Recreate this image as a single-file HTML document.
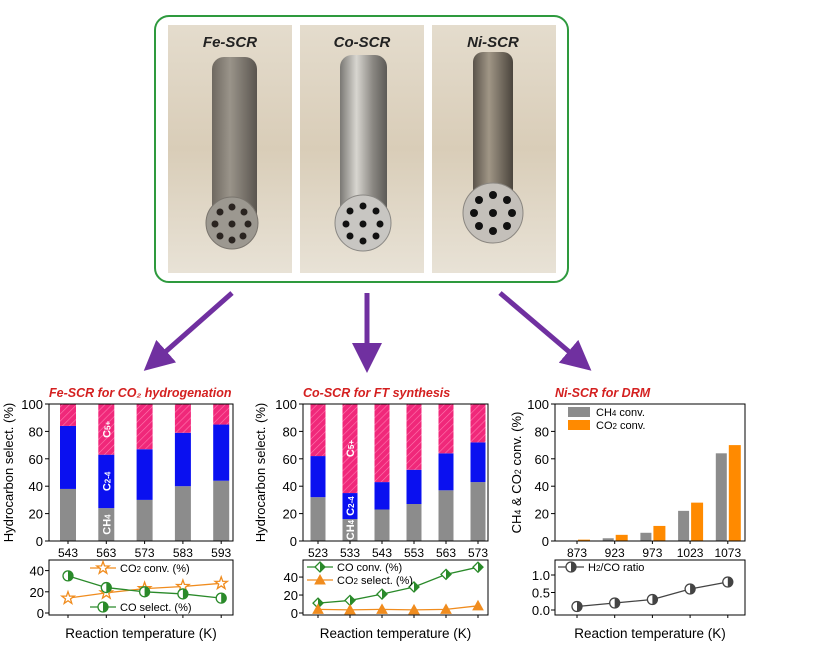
<!DOCTYPE html>
<html><head><meta charset="utf-8"><style>
body{margin:0;background:#fff;}
svg{display:block;font-family:"Liberation Sans",Arial,sans-serif;}
</style></head><body>
<svg id="fig" width="829" height="650" viewBox="0 0 829 650">
<defs>
<linearGradient id="bg1" x1="0" y1="0" x2="0" y2="1"><stop offset="0" stop-color="#e4dccd"/><stop offset="0.5" stop-color="#d9cdb8"/><stop offset="1" stop-color="#e8e2d6"/></linearGradient>
<linearGradient id="cylFe" x1="0" x2="1"><stop offset="0" stop-color="#6e6860"/><stop offset="0.4" stop-color="#9a948a"/><stop offset="1" stop-color="#5a554f"/></linearGradient>
<linearGradient id="cylCo" x1="0" x2="1"><stop offset="0" stop-color="#7a7874"/><stop offset="0.35" stop-color="#d8d6d0"/><stop offset="0.7" stop-color="#8a8782"/><stop offset="1" stop-color="#5c5a56"/></linearGradient>
<linearGradient id="cylNi" x1="0" x2="1"><stop offset="0" stop-color="#5a534a"/><stop offset="0.4" stop-color="#a09686"/><stop offset="1" stop-color="#4a443c"/></linearGradient>
<pattern id="hatch" width="5" height="5" patternUnits="userSpaceOnUse" patternTransform="rotate(45)"><rect width="5" height="5" fill="#f0287a"/><line x1="0" y1="0" x2="0" y2="5" stroke="#ff7ab0" stroke-width="1.2"/></pattern>
<marker id="ah" markerWidth="6" markerHeight="6" refX="3" refY="3" orient="auto"><path d="M0,0 L6,3 L0,6 z" fill="#7030a0"/></marker>
</defs>

<rect x="155" y="16" width="413" height="266" rx="14" fill="#fff" stroke="#2e9a3e" stroke-width="2"/>

<g>
<rect x="168" y="25" width="124" height="248" fill="url(#bg1)"/>
<rect x="212" y="57" width="45" height="168" rx="12" fill="url(#cylFe)"/>
<circle cx="232" cy="223" r="26" fill="#9c9890" stroke="#7a756e"/>
<g fill="#2a2420"><circle cx="232" cy="207" r="3.5"/><circle cx="244" cy="212" r="3.5"/><circle cx="248" cy="224" r="3.5"/><circle cx="243" cy="236" r="3.5"/><circle cx="232" cy="240" r="3.5"/><circle cx="220" cy="236" r="3.5"/><circle cx="215" cy="224" r="3.5"/><circle cx="220" cy="212" r="3.5"/><circle cx="232" cy="224" r="3.5"/></g>
<text x="230" y="47" text-anchor="middle" font-size="15" font-weight="bold" font-style="italic" fill="#222">Fe-SCR</text>
</g>
<g>
<rect x="300" y="25" width="124" height="248" fill="url(#bg1)"/>
<rect x="340" y="55" width="47" height="170" rx="12" fill="url(#cylCo)"/>
<circle cx="363" cy="223" r="28" fill="#c8c6c2" stroke="#8a8884"/>
<g fill="#111"><circle cx="363" cy="206" r="3.5"/><circle cx="376" cy="211" r="3.5"/><circle cx="380" cy="224" r="3.5"/><circle cx="376" cy="236" r="3.5"/><circle cx="363" cy="241" r="3.5"/><circle cx="350" cy="236" r="3.5"/><circle cx="346" cy="224" r="3.5"/><circle cx="350" cy="211" r="3.5"/><circle cx="363" cy="224" r="3.5"/></g>
<text x="362" y="47" text-anchor="middle" font-size="15" font-weight="bold" font-style="italic" fill="#222">Co-SCR</text>
</g>
<g>
<rect x="432" y="25" width="124" height="248" fill="url(#bg1)"/>
<rect x="473" y="52" width="40" height="165" rx="10" fill="url(#cylNi)"/>
<circle cx="493" cy="213" r="30" fill="#c4c0ba" stroke="#8a8680"/>
<g fill="#111"><circle cx="493" cy="195" r="4"/><circle cx="507" cy="200" r="4"/><circle cx="512" cy="213" r="4"/><circle cx="507" cy="226" r="4"/><circle cx="493" cy="231" r="4"/><circle cx="479" cy="226" r="4"/><circle cx="474" cy="213" r="4"/><circle cx="479" cy="200" r="4"/><circle cx="493" cy="213" r="4"/></g>
<text x="493" y="47" text-anchor="middle" font-size="15" font-weight="bold" font-style="italic" fill="#222">Ni-SCR</text>
</g>

<g stroke="#7030a0" stroke-width="5">
<line x1="232" y1="293" x2="155" y2="361" marker-end="url(#ah)"/>
<line x1="367" y1="293" x2="367" y2="358" marker-end="url(#ah)"/>
<line x1="500" y1="293" x2="580" y2="361" marker-end="url(#ah)"/>
</g>
<g id="charts"></g>
</svg>
<script>
// Fe-SCR data
const feCats = ['543','563','573','583','593'];
const feCH4 = [38,24,30,40,44];
const feC24 = [46,39,37,39,41];
const feC5 = [16,37,33,21,15];
const feCO2conv = [14,19,23,25,28];
const feCOsel = [35,24,20,18,14];
// Co-SCR data
const coCats = ['523','533','543','553','563','573'];
const coCH4 = [32,16,23,27,37,43];
const coC24 = [30,19,20,25,27,29];
const coC5 = [38,65,57,48,36,28];
const coCOconv = [11,14,21,29,43,51];
const coCO2sel = [4,3.5,4,3.5,4,8];
// Ni-SCR data
const niCats = ['873','923','973','1023','1073'];
const niCH4 = [0,2,6,22,64];
const niCO2 = [1,4.5,11,28,70];
const niRatio = [0.1,0.2,0.3,0.6,0.8];
const topTicks = [0,20,40,60,80,100];

const NS='http://www.w3.org/2000/svg';
const root=document.getElementById('charts');
function el(tag,attrs,parent,text){const e=document.createElementNS(NS,tag);for(const k in attrs)e.setAttribute(k,attrs[k]);if(text!==undefined)e.textContent=text;(parent||root).appendChild(e);return e;}

function chart(cfg){
  const g=el('g',{});
  
  
  const L=cfg.left,R=cfg.right,T=404,B=541,lT=560,lB=615;
  const xs=i=>cfg.x0+i*cfg.step;
  const y=v=>B-(v/100)*(B-T);
  const ly=v=>cfg.lZero-(v-0)*(cfg.lZero-cfg.lTop)/cfg.lMax;
  const t=el('text',{x:L,y:397,'font-size':12.5,'font-weight':'bold','font-style':'italic',fill:'#d42020'},g,cfg.title);
  
  
  const yl=el('text',{x:cfg.ylx,y:(T+B)/2,'font-size':13,'text-anchor':'middle',fill:'#000',transform:`rotate(-90 ${cfg.ylx} ${(T+B)/2})`},g);
  
  
  yl.innerHTML=cfg.ylabel;
  cfg.drawBars(g,xs,y);
  el('rect',{x:L,y:T,width:R-L,height:B-T,fill:'none',stroke:'#000','stroke-width':1},g);
  topTicks.forEach(v=>{
    el('line',{x1:L,x2:L-4,y1:y(v),y2:y(v),stroke:'#000'},g);
    const tl=el('text',{x:L-6,y:y(v)+5,'font-size':13,'text-anchor':'end'},g,String(v));
    
    
  });
  cfg.cats.forEach((c,i)=>{
    el('line',{x1:xs(i),x2:xs(i),y1:B,y2:B+3,stroke:'#000'},g);
    const tl=el('text',{x:xs(i),y:557,'font-size':12,'text-anchor':'middle'},g,c);
    
    
  });
  el('rect',{x:L,y:lT,width:R-L,height:lB-lT,fill:'none',stroke:'#000'},g);
  cfg.lTicks.forEach(v=>{
    el('line',{x1:L,x2:L-4,y1:ly(v),y2:ly(v),stroke:'#000'},g);
    const tl=el('text',{x:L-5,y:ly(v)+5,'font-size':13,'text-anchor':'end'},g,cfg.lFmt?cfg.lFmt(v):String(v));
    
    
  });
  cfg.cats.forEach((c,i)=>el('line',{x1:xs(i),x2:xs(i),y1:lB,y2:lB+3,stroke:'#000'},g));
  cfg.series.forEach(s=>{
    const pts=s.data.map((v,i)=>xs(i)+','+ly(v)).join(' ');
    const pl=el('polyline',{points:pts,fill:'none',stroke:s.color,'stroke-width':1.3},g);
    
    
    s.data.forEach((v,i)=>{
      const m=drawMarker(g,s.marker,xs(i),ly(v),s.color);
      
      
    });
    const lg=el('g',{},g);
    
    
    el('line',{x1:s.lx,x2:s.lx+26,y1:s.ly,y2:s.ly,stroke:s.color,'stroke-width':1.3},lg);
    drawMarker(lg,s.marker,s.lx+13,s.ly,s.color);
    const lt=el('text',{x:s.lx+30,y:s.ly+4,'font-size':11},lg);
    lt.innerHTML=s.label;
  });
  const xl=el('text',{x:(L+R)/2,y:638,'font-size':13.5,'text-anchor':'middle'},g,'Reaction temperature (K)');
  
  
}
function drawMarker(g,type,x,y,c){
  if(type==='star'){
    let p='';for(let k=0;k<10;k++){const r=k%2?2.6:6.5,a=-Math.PI/2+k*Math.PI/5;p+=(x+r*Math.cos(a))+','+(y+r*Math.sin(a))+' ';}
    return el('polygon',{points:p,fill:'#fff',stroke:c,'stroke-width':1.3},g);
  }
  if(type==='tri'){
    return el('polygon',{points:`${x},${y-5} ${x+5},${y+4} ${x-5},${y+4}`,fill:c,stroke:c},g);
  }
  if(type==='diamond'){
    const gg=el('g',{},g);
    el('polygon',{points:`${x},${y-5} ${x+5},${y} ${x},${y+5} ${x-5},${y}`,fill:'#fff',stroke:c,'stroke-width':1.3},gg);
    el('polygon',{points:`${x},${y-5} ${x+5},${y} ${x},${y+5}`,fill:c},gg);
    return gg;
  }
  const gg=el('g',{},g);
  el('circle',{cx:x,cy:y,r:5,fill:'#fff',stroke:c,'stroke-width':1.3},gg);
  el('path',{d:`M${x},${y-5} A5,5 0 0 1 ${x},${y+5} Z`,fill:c},gg);
  return gg;
}
function stacked(cats,ch4,c24,c5,bw,labelIdx){
  return function(g,xs,y){
    cats.forEach((c,i)=>{
      let base=0;
      [[ch4[i],'#8c8c8c','bar-ch4'],[c24[i],'#0a10f0','bar-c2-4'],[c5[i],'url(#hatch)','bar-c5']].forEach(([v,f,nm])=>{
        const r=el('rect',{x:xs(i)-bw/2,y:y(base+v),width:bw,height:y(base)-y(base+v),fill:f},g);
        
        
        base+=v;
      });
    });
    const i=labelIdx,x=xs(i)+4;
    const mids=[ch4[i]/2,ch4[i]+c24[i]/2,ch4[i]+c24[i]+c5[i]/2];
    [['CH<tspan font-size="8">4</tspan>',mids[0]],['C<tspan font-size="8">2-4</tspan>',mids[1]],['C<tspan font-size="8">5+</tspan>',mids[2]]].forEach(([tx,m])=>{
      const t=el('text',{x:x,y:y(m),'font-size':11,'font-weight':'bold',fill:'#fff','text-anchor':'middle',transform:`rotate(-90 ${x} ${y(m)})`},g);
      t.innerHTML=tx;
      
      
    });
  };
}
chart({name:'fe-scr-chart',title:'Fe-SCR for CO\u2082 hydrogenation',ylabel:'Hydrocarbon select. (%)',ylx:13,
  left:49,right:233,x0:68,step:38.3,cats:feCats,
  drawBars:stacked(feCats,feCH4,feC24,feC5,16,1),
  lZero:613,lTop:560,lMax:50,lTicks:[0,20,40],
  series:[{name:'co2-conv-line',data:feCO2conv,color:'#f08c1e',marker:'star',label:'CO<tspan font-size="8">2</tspan> conv. (%)',lx:90,ly:568},
          {name:'co-select-line',data:feCOsel,color:'#2a8a2a',marker:'half',label:'CO select. (%)',lx:90,ly:607}]});
chart({name:'co-scr-chart',title:'Co-SCR for FT synthesis',ylabel:'Hydrocarbon select. (%)',ylx:265,
  left:303,right:488,x0:318,step:32,cats:coCats,
  drawBars:stacked(coCats,coCH4,coC24,coC5,15,1),
  lZero:613,lTop:560,lMax:59,lTicks:[0,20,40],
  series:[{name:'co-conv-line',data:coCOconv,color:'#2a8a2a',marker:'diamond',label:'CO conv. (%)',lx:307,ly:567},
          {name:'co2-select-line',data:coCO2sel,color:'#f08c1e',marker:'tri',label:'CO<tspan font-size="8">2</tspan> select. (%)',lx:307,ly:580}]});
chart({name:'ni-scr-chart',title:'Ni-SCR for DRM',ylabel:'CH<tspan font-size="9">4</tspan>  &amp;  CO<tspan font-size="9">2</tspan> conv. (%)',ylx:521,
  left:555,right:745,x0:577,step:37.7,cats:niCats,
  drawBars:function(g,xs,y){
    niCats.forEach((c,i)=>{
      const a=el('rect',{x:xs(i)-12,y:y(niCH4[i]),width:11,height:y(0)-y(niCH4[i]),fill:'#8c8c8c'},g);
      
      
      const b=el('rect',{x:xs(i)+1,y:y(niCO2[i]),width:12,height:y(0)-y(niCO2[i]),fill:'#ff8a00'},g);
      
      
    });
    [['#8c8c8c','CH<tspan font-size="8">4</tspan> conv.',412],['#ff8a00','CO<tspan font-size="8">2</tspan> conv.',425]].forEach(([f,tx,yy])=>{
      const lg=el('g',{},g);
      
      
      el('rect',{x:568,y:yy-5,width:22,height:10,fill:f},lg);
      const t=el('text',{x:596,y:yy+4,'font-size':11},lg);t.innerHTML=tx;
    });
  },
  lZero:610,lTop:575,lMax:1,lTicks:[0,0.5,1],lFmt:v=>v.toFixed(1),
  series:[{name:'h2-co-ratio-line',data:niRatio,color:'#444',marker:'half',label:'H<tspan font-size="8">2</tspan>/CO ratio',lx:558,ly:567}]});
</script>
</body></html>
